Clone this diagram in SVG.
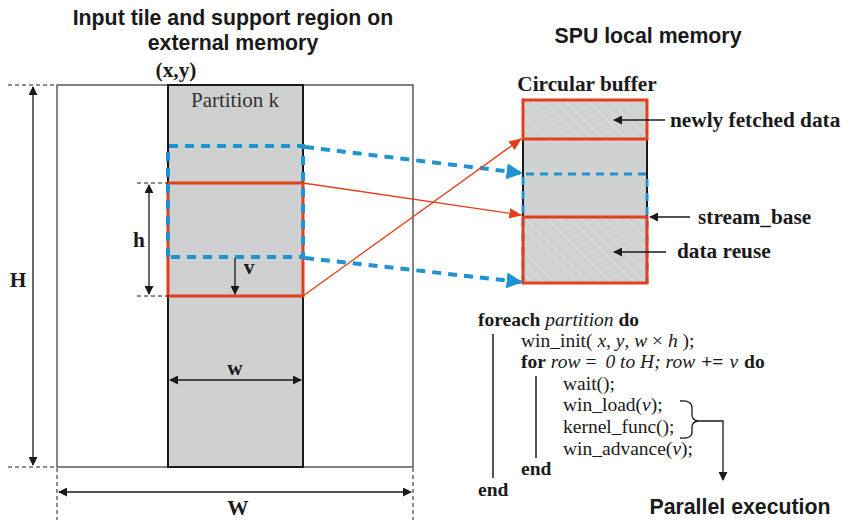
<svg xmlns="http://www.w3.org/2000/svg" width="842" height="520" viewBox="0 0 842 520">
<defs>
<style>
.title{font-family:"Liberation Sans",Arial,sans-serif;font-weight:bold;font-size:21.3px;fill:#1a1a1a}
.lbl{font-family:"Liberation Serif","Times New Roman",serif;font-weight:bold;font-size:21.3px;fill:#1a1a1a}
.code{font-family:"Liberation Serif","Times New Roman",serif;font-size:19.5px;fill:#1a1a1a}
.b{font-weight:bold}
.i{font-style:italic}
.thin{stroke:#1a1a1a;stroke-width:1.3;fill:none}
.dash{stroke:#1a1a1a;stroke-width:1;fill:none;stroke-dasharray:4,3}
.blue{stroke:#1f93d1;stroke-width:4;fill:none;stroke-dasharray:9,7}
.red{stroke:#e2401c;stroke-width:3;fill:none}
.redthin{stroke:#e2401c;stroke-width:1.3;fill:none}
</style>
<marker id="ak" viewBox="0 0 10 10" refX="9" refY="5" markerWidth="9" markerHeight="9" markerUnits="userSpaceOnUse" orient="auto-start-reverse"><path d="M0,0 L10,5 L0,10 Z" fill="#1a1a1a"/></marker>
<marker id="ar" viewBox="0 0 10 10" refX="9" refY="5" markerWidth="13" markerHeight="13" markerUnits="userSpaceOnUse" orient="auto"><path d="M0,1 L10,5 L0,9 Z" fill="#e2401c"/></marker>
<marker id="ab" viewBox="0 0 10 10" refX="9" refY="5" markerWidth="16" markerHeight="16" markerUnits="userSpaceOnUse" orient="auto"><path d="M0,0 L10,5 L0,10 Z" fill="#1f93d1"/></marker>
<pattern id="hatch" patternUnits="userSpaceOnUse" width="8" height="8" patternTransform="rotate(-45)">
<rect width="8" height="8" fill="#d0d1d1"/>
<line x1="0" y1="0" x2="0" y2="8" stroke="#e2e3e3" stroke-width="1.5"/>
</pattern>
</defs>

<g id="titles">
<text class="title" x="233" y="25" text-anchor="middle">Input tile and support region on</text>
<text class="title" x="233" y="50" text-anchor="middle">external memory</text>
<text class="title" x="648" y="43" text-anchor="middle">SPU local memory</text>
</g>

<g id="external-memory">
<rect x="57" y="85" width="356" height="382" fill="#fff" stroke="#333" stroke-width="1.2"/>
<line class="dash" x1="8" y1="85" x2="56" y2="85"/>
<line class="dash" x1="8" y1="467" x2="56" y2="467"/>
<line class="thin" x1="33" y1="87" x2="33" y2="465" marker-start="url(#ak)" marker-end="url(#ak)"/>
<text class="lbl" x="18" y="287" text-anchor="middle">H</text>
<line class="dash" x1="57" y1="468" x2="57" y2="520"/>
<line class="dash" x1="413" y1="468" x2="413" y2="520"/>
<line class="thin" x1="59" y1="492" x2="411" y2="492" marker-start="url(#ak)" marker-end="url(#ak)"/>
<text class="lbl" x="238" y="515" text-anchor="middle">W</text>
<text class="lbl" x="176" y="77" text-anchor="middle" font-size="19">(x,y)</text>
</g>

<g id="partition">
<rect x="168" y="85" width="135" height="382" fill="#cfd0d0" stroke="#1a1a1a" stroke-width="2"/>
<text x="235" y="107" text-anchor="middle" font-family="'Liberation Serif','Times New Roman',serif" font-size="21" fill="#333">Partition k</text>
<rect class="red" x="168" y="183" width="135" height="113"/>
<path class="blue" d="M168,257 L168,146 L303,146 L303,257 Z"/>
<line class="dash" x1="137" y1="183" x2="168" y2="183"/>
<line class="dash" x1="137" y1="296" x2="170" y2="296"/>
<line class="thin" x1="149" y1="185" x2="149" y2="294" marker-start="url(#ak)" marker-end="url(#ak)"/>
<text class="lbl" x="139" y="247" text-anchor="middle" font-size="20">h</text>
<line class="thin" x1="235" y1="258" x2="235" y2="294" marker-end="url(#ak)"/>
<text class="lbl" x="249" y="274" text-anchor="middle" font-size="20">v</text>
<line class="thin" x1="170" y1="380" x2="301" y2="380" marker-start="url(#ak)" marker-end="url(#ak)"/>
<text class="lbl" x="235" y="375" text-anchor="middle" font-size="20">w</text>
</g>

<g id="circular-buffer">
<text class="lbl" x="587" y="91" text-anchor="middle">Circular buffer</text>
<rect x="523" y="100" width="124" height="183" fill="#d0d1d1" stroke="#1a1a1a" stroke-width="2"/>
<rect x="523" y="100" width="124" height="39" fill="url(#hatch)"/>
<rect x="523" y="217" width="124" height="66" fill="url(#hatch)"/>
<path d="M523,283 L523,174 L647,174 L647,283" stroke="#1f93d1" stroke-width="3" fill="none" stroke-dasharray="8,6"/>
<rect class="red" x="523" y="100" width="124" height="39"/>
<rect class="red" x="523" y="217" width="124" height="66"/>
<line class="thin" x1="665" y1="120" x2="614" y2="120" marker-end="url(#ak)"/>
<text class="lbl" x="670" y="127">newly fetched data</text>
<line class="thin" x1="690" y1="217" x2="650" y2="217" marker-end="url(#ak)"/>
<text class="lbl" x="698" y="224">stream_base</text>
<line class="thin" x1="666" y1="252" x2="614" y2="252" marker-end="url(#ak)"/>
<text class="lbl" x="677" y="258">data reuse</text>
</g>

<g id="connectors">
<line class="blue" x1="305" y1="147" x2="521" y2="173" marker-end="url(#ab)"/>
<line class="blue" x1="305" y1="258" x2="521" y2="282" marker-end="url(#ab)"/>
<line class="redthin" x1="303" y1="183" x2="521" y2="215" marker-end="url(#ar)"/>
<line class="redthin" x1="303" y1="296" x2="521" y2="139" marker-end="url(#ar)"/>
</g>

<g id="code">
<text class="code" x="478" y="326"><tspan class="b">foreach</tspan> <tspan class="i">partition</tspan> <tspan class="b">do</tspan></text>
<text class="code" x="521" y="347">win_init( <tspan class="i">x</tspan>, <tspan class="i">y</tspan>, <tspan class="i">w</tspan> × <tspan class="i">h</tspan> );</text>
<text class="code" x="521" y="368"><tspan class="b">for</tspan> <tspan class="i">row</tspan><tspan dx="5">=</tspan><tspan class="i" dx="9">0 to H; row</tspan><tspan class="b" dx="6">+=</tspan><tspan class="i" dx="6">v</tspan><tspan class="b" dx="6">do</tspan></text>
<text class="code" x="563" y="390">wait();</text>
<text class="code" x="563" y="411">win_load(<tspan class="i">v</tspan>);</text>
<text class="code" x="563" y="433">kernel_func();</text>
<text class="code" x="563" y="455">win_advance(<tspan class="i">v</tspan>);</text>
<text class="code b" x="521" y="475">end</text>
<text class="code b" x="478" y="496">end</text>
<line x1="493" y1="334" x2="493" y2="478" stroke="#1a1a1a" stroke-width="1.5"/>
<line x1="536" y1="376" x2="536" y2="458" stroke="#1a1a1a" stroke-width="1.5"/>
<path d="M680,401 Q692,400 692,408 L692,415 Q692,420 698,421 Q692,422 692,427 L692,432 Q692,439 680,438" class="thin"/>
<path d="M698,421 L723,421 L723,480" class="thin" marker-end="url(#ak)"/>
<text class="title" x="740" y="514" text-anchor="middle">Parallel execution</text>
</g>
</svg>
